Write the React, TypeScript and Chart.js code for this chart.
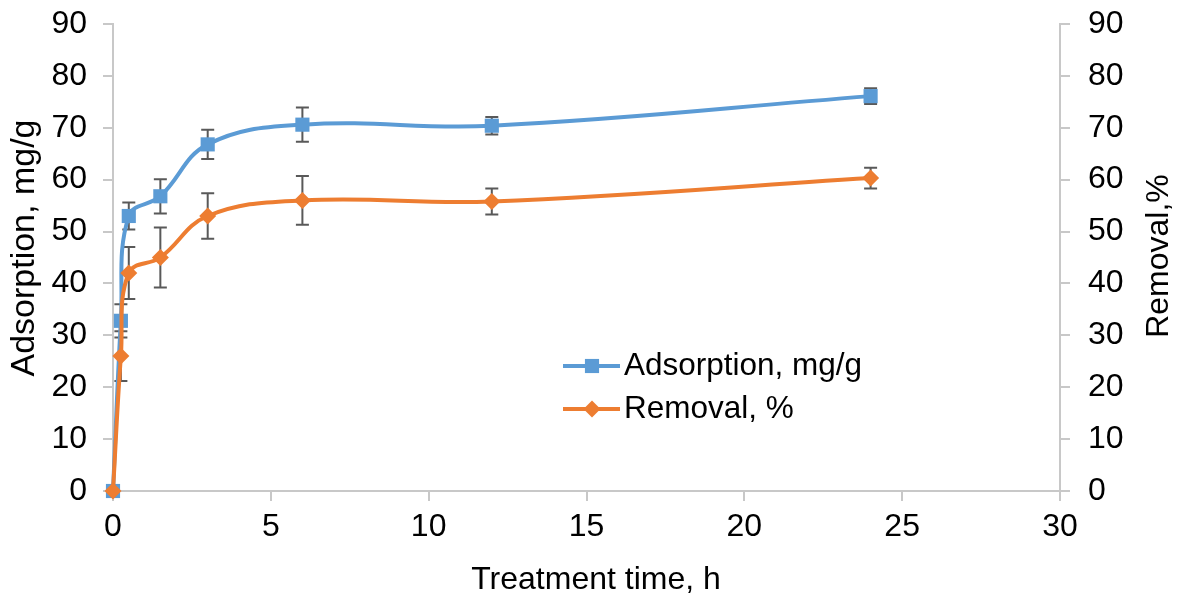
import React, { useEffect, useRef } from "react";
import { Chart, registerables } from "chart.js";

Chart.register(...registerables);

// ---- data ----
const times = [0, 0.25, 0.5, 1.5, 3, 6, 12, 24];
const adsorption = [0, 32.8, 53, 56.8, 66.8, 70.6, 70.4, 76.1];
const adsorptionErr = [0, 3.2, 2.6, 3.3, 2.8, 3.3, 1.7, 1.5];
const removal = [0, 26, 42, 45, 53, 56, 55.8, 60.3];
const removalErr = [0, 4.8, 5, 5.8, 4.4, 4.7, 2.5, 2];

const seriesNames = ["Adsorption, mg/g", "Removal, %"];
const xTitle = "Treatment time, h";
const yTitle = "Adsorption, mg/g";
const y1Title = "Removal,%";
const xMin = 0, xMax = 30, xStep = 5;
const yMin = 0, yMax = 90, yStep = 10;

const BLUE = "#5B9BD5";
const ORANGE = "#ED7D31";
const AXIS = "#C8C8C8";
const ERR = "#595959";
const FONT = "'Liberation Sans', Arial, sans-serif";
const FS = 32;
const LFS = 31.5;

function drawMarker(ctx: CanvasRenderingContext2D, style: string, r: number, x: number, y: number, color: string) {
  ctx.save();
  ctx.fillStyle = color;
  ctx.beginPath();
  if (style === "rect") {
    const h = r * Math.SQRT1_2;
    ctx.rect(x - h, y - h, 2 * h, 2 * h);
  } else {
    ctx.moveTo(x, y - r);
    ctx.lineTo(x + r, y);
    ctx.lineTo(x, y + r);
    ctx.lineTo(x - r, y);
    ctx.closePath();
  }
  ctx.fill();
  ctx.restore();
}

const errorBarPlugin = {
  id: "errorBars",
  beforeDatasetsDraw(chart: any) {
    const ctx = chart.ctx;
    const xs = chart.scales.x;
    chart.data.datasets.forEach((ds: any) => {
      const ys = chart.scales[ds.yAxisID];
      const errs: number[] = ds.errors || [];
      ctx.save();
      ctx.strokeStyle = ERR;
      ctx.lineWidth = 2;
      ds.data.forEach((p: any, i: number) => {
        const e = errs[i];
        if (!e) return;
        const px = xs.getPixelForValue(p.x);
        const top = ys.getPixelForValue(p.y + e);
        const bot = ys.getPixelForValue(p.y - e);
        ctx.beginPath();
        ctx.moveTo(px, top);
        ctx.lineTo(px, bot);
        ctx.moveTo(px - 6.5, top);
        ctx.lineTo(px + 6.5, top);
        ctx.moveTo(px - 6.5, bot);
        ctx.lineTo(px + 6.5, bot);
        ctx.stroke();
      });
      ctx.restore();
    });
  },
};

function rotatedText(ctx: CanvasRenderingContext2D, text: string, x: number, y: number, size: number) {
  ctx.save();
  ctx.font = `${size}px ${FONT}`;
  ctx.fillStyle = "#000";
  ctx.textAlign = "center";
  ctx.textBaseline = "middle";
  ctx.translate(x, y);
  ctx.rotate(-Math.PI / 2);
  ctx.fillText(text, 0, 0);
  ctx.restore();
}

const extrasPlugin = {
  id: "extras",
  afterDraw(chart: any) {
    const ctx = chart.ctx;
    // axis titles
    rotatedText(ctx, yTitle, 25, 248, 34);
    rotatedText(ctx, y1Title, 1159, 256, FS);
    ctx.save();
    ctx.font = `${FS}px ${FONT}`;
    ctx.fillStyle = "#000";
    ctx.textAlign = "center";
    ctx.textBaseline = "middle";
    ctx.fillText(xTitle, 596, 580);
    ctx.restore();

    // legend
    const rows = [
      { y: 366, ds: chart.data.datasets[0] },
      { y: 409, ds: chart.data.datasets[1] },
    ];
    rows.forEach((r) => {
      const ds = r.ds;
      ctx.save();
      ctx.strokeStyle = ds.borderColor;
      ctx.lineWidth = ds.borderWidth;
      ctx.beginPath();
      ctx.moveTo(563, r.y);
      ctx.lineTo(620, r.y);
      ctx.stroke();
      drawMarker(ctx, ds.pointStyle, ds.pointRadius, 592, r.y, ds.pointBackgroundColor);
      ctx.font = `${LFS}px ${FONT}`;
      ctx.fillStyle = "#000";
      ctx.textAlign = "left";
      ctx.textBaseline = "middle";
      ctx.fillText(ds.label, 624, r.y);
      ctx.restore();
    });
  },
};

export default function App() {
  const ref = useRef<HTMLCanvasElement>(null);
  useEffect(() => {
    document.body.style.margin = "0";
    const canvas = ref.current!;
    const tickFont = { family: FONT, size: FS };
    const mk = (ys: number[]) => times.map((t, i) => ({ x: t, y: ys[i] }));
    const chart = new Chart(canvas, {
      type: "line",
      data: {
        datasets: [
          {
            label: seriesNames[0],
            data: mk(adsorption),
            errors: adsorptionErr,
            yAxisID: "y",
            borderColor: BLUE,
            backgroundColor: BLUE,
            pointBackgroundColor: BLUE,
            pointBorderColor: BLUE,
            pointBorderWidth: 0,
            pointStyle: "rect",
            pointRadius: 10,
            borderWidth: 4,
            tension: 0.4,
            clip: false,
            order: 1,
          } as any,
          {
            label: seriesNames[1],
            data: mk(removal),
            errors: removalErr,
            yAxisID: "y1",
            borderColor: ORANGE,
            backgroundColor: ORANGE,
            pointBackgroundColor: ORANGE,
            pointBorderColor: ORANGE,
            pointBorderWidth: 0,
            pointStyle: "rectRot",
            pointRadius: 8.5,
            borderWidth: 4,
            tension: 0.4,
            clip: false,
            order: 0,
          } as any,
        ],
      },
      options: {
        responsive: false,
        animation: false,
        devicePixelRatio: 1,
        layout: { padding: { top: 24, left: 0, right: 0, bottom: 0 } },
        plugins: { legend: { display: false }, tooltip: { enabled: false } },
        scales: {
          x: {
            type: "linear",
            min: xMin,
            max: xMax,
            ticks: { stepSize: xStep, font: tickFont, color: "#000", padding: 7, maxRotation: 0 },
            grid: { drawOnChartArea: false, drawTicks: true, tickLength: 10, color: AXIS, lineWidth: 2 },
            border: { display: true, color: AXIS, width: 2 },
            afterFit: (s: any) => { s.height = 108; s.paddingLeft = 0; s.paddingRight = 0; },
          },
          y: {
            type: "linear",
            position: "left",
            min: yMin,
            max: yMax,
            ticks: { stepSize: yStep, font: tickFont, color: "#000", padding: 16 },
            grid: { drawOnChartArea: false, drawTicks: true, tickLength: 10, color: AXIS, lineWidth: 2 },
            border: { display: true, color: AXIS, width: 2 },
            afterFit: (s: any) => { s.width = 113; s.paddingTop = 0; s.paddingBottom = 0; },
          },
          y1: {
            type: "linear",
            position: "right",
            min: yMin,
            max: yMax,
            ticks: { stepSize: yStep, font: tickFont, color: "#000", padding: 18 },
            grid: { drawOnChartArea: false, drawTicks: true, tickLength: 10, color: AXIS, lineWidth: 2 },
            border: { display: true, color: AXIS, width: 2 },
            afterFit: (s: any) => { s.width = 122; s.paddingTop = 0; s.paddingBottom = 0; },
          },
        },
      } as any,
      plugins: [errorBarPlugin, extrasPlugin],
    });
    return () => chart.destroy();
  }, []);
  return (
    <div style={{ width: 1182, height: 599, background: "#fff" }}>
      <canvas ref={ref} width={1182} height={599} style={{ display: "block" }} />
    </div>
  );
}
